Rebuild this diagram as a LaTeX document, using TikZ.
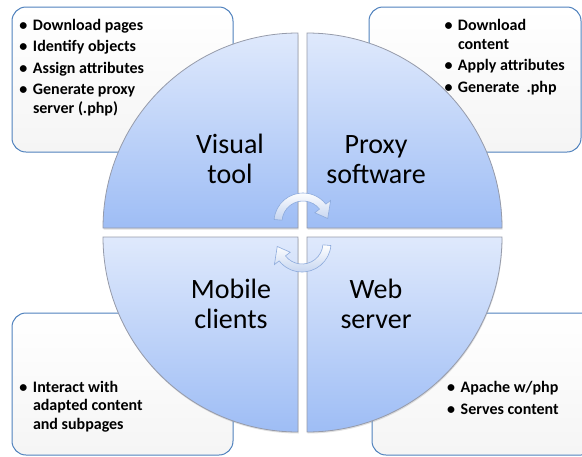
\documentclass[tikz,border=0pt]{standalone}
\usepackage{fontspec}
\setmainfont{Carlito}
\usetikzlibrary{positioning,shadows}
\definecolor{boxblue}{RGB}{79,129,189}
\definecolor{quadtop}{RGB}{223,233,252}
\definecolor{quadbot}{RGB}{158,189,245}
\definecolor{quadline}{RGB}{150,155,170}
\definecolor{arrowline}{RGB}{140,170,220}
\definecolor{arrowbot}{RGB}{196,212,240}
\tikzset{
	infobox/.style={rectangle, rounded corners=14pt, draw=boxblue, line width=1pt, top color=white, bottom color=gray!8, inner sep=0pt},
	quadrant/.style={draw=quadline, line width=0.8pt, top color=quadtop, bottom color=quadbot, drop shadow={opacity=0.25, shadow xshift=0.5pt, shadow yshift=-1.5pt}},
	biglabel/.style={align=center, font=\fontsize{28}{30}\selectfont, inner sep=0pt}
}
\tikzset{
	bullets/.style={align=left, font=\bfseries\fontsize{16}{18.5}\selectfont, inner sep=0pt, anchor=base west},
	cyclearrow/.style={draw=arrowline, line width=0.6pt, top color=white, bottom color=arrowbot}
}
\newcommand{\bitem}{\makebox[13.5pt][l]{\textbullet}}
\newcommand{\bcont}{\hspace*{13.5pt}}

\begin{document}
\begin{tikzpicture}[x=1pt, y=-1pt]
		\useasboundingbox (0,0) rectangle (582,456);
		
		%boxes
		\node[infobox, minimum width=221, minimum height=145] at (122.5,79.5) (toolbox) {};
		\node[infobox, minimum width=212, minimum height=145] at (475,79.5) (proxybox) {};
		\node[infobox, minimum width=221, minimum height=142] at (122.5,384) (mobilebox) {};
		\node[infobox, minimum width=223, minimum height=142] at (483.5,384) (webbox) {};
		
		%quadrants
		\shade[quadrant] (298,228) -- (103,228) arc[start angle=180, end angle=270, radius=195] -- cycle;
		\shade[quadrant] (307,228) -- (307,33) arc[start angle=270, end angle=360, radius=195] -- cycle;
		\shade[quadrant] (298,237) -- (298,432) arc[start angle=90, end angle=180, radius=195] -- cycle;
		\shade[quadrant] (307,237) -- (502,237) arc[start angle=0, end angle=90, radius=195] -- cycle;
		
		%text
		\node[biglabel, anchor=base] at (230,183) (visual) {Visual\\tool};
		\node[biglabel, anchor=base] at (376,183) (proxy) {Proxy\\software};
		\node[biglabel, anchor=base] at (231,328) (mobile) {Mobile\\clients};
		\node[biglabel, anchor=base] at (376,328) (web) {Web\\server};
		
		\node[bullets] at (19.3,113) (tooltext) {\bitem Download pages\\[3pt] \bitem Identify objects\\[3pt] \bitem Assign attributes\\[3pt] \bitem Generate proxy\\ \bcont server (.php)};
		\node[bullets] at (444.3,92) (proxytext) {\bitem Download\\ \bcont content\\[3pt] \bitem Apply attributes\\[3pt] \bitem Generate~~.php};
		\node[bullets] at (19.3,429) (mobiletext) {\bitem Interact with\\ \bcont adapted content\\ \bcont and subpages};
		\node[bullets] at (447,414) (webtext) {\bitem Apache w/php\\[3pt] \bitem Serves content};
		
		%cycle arrows
		\begin{scope}[shift={(303,222)}]
			\shade[cyclearrow] (185:29) arc[start angle=185, end angle=322, radius=29] -- (322:35) -- (352:25) -- (322:15) -- (322:21) arc[start angle=322, end angle=185, radius=21] -- cycle;
		\end{scope}
		\begin{scope}[shift={(302,243)}]
			\shade[cyclearrow] (5:29) arc[start angle=5, end angle=142, radius=29] -- (142:35) -- (172:25) -- (142:15) -- (142:21) arc[start angle=142, end angle=5, radius=21] -- cycle;
		\end{scope}
		
	\end{tikzpicture}
\end{document}
